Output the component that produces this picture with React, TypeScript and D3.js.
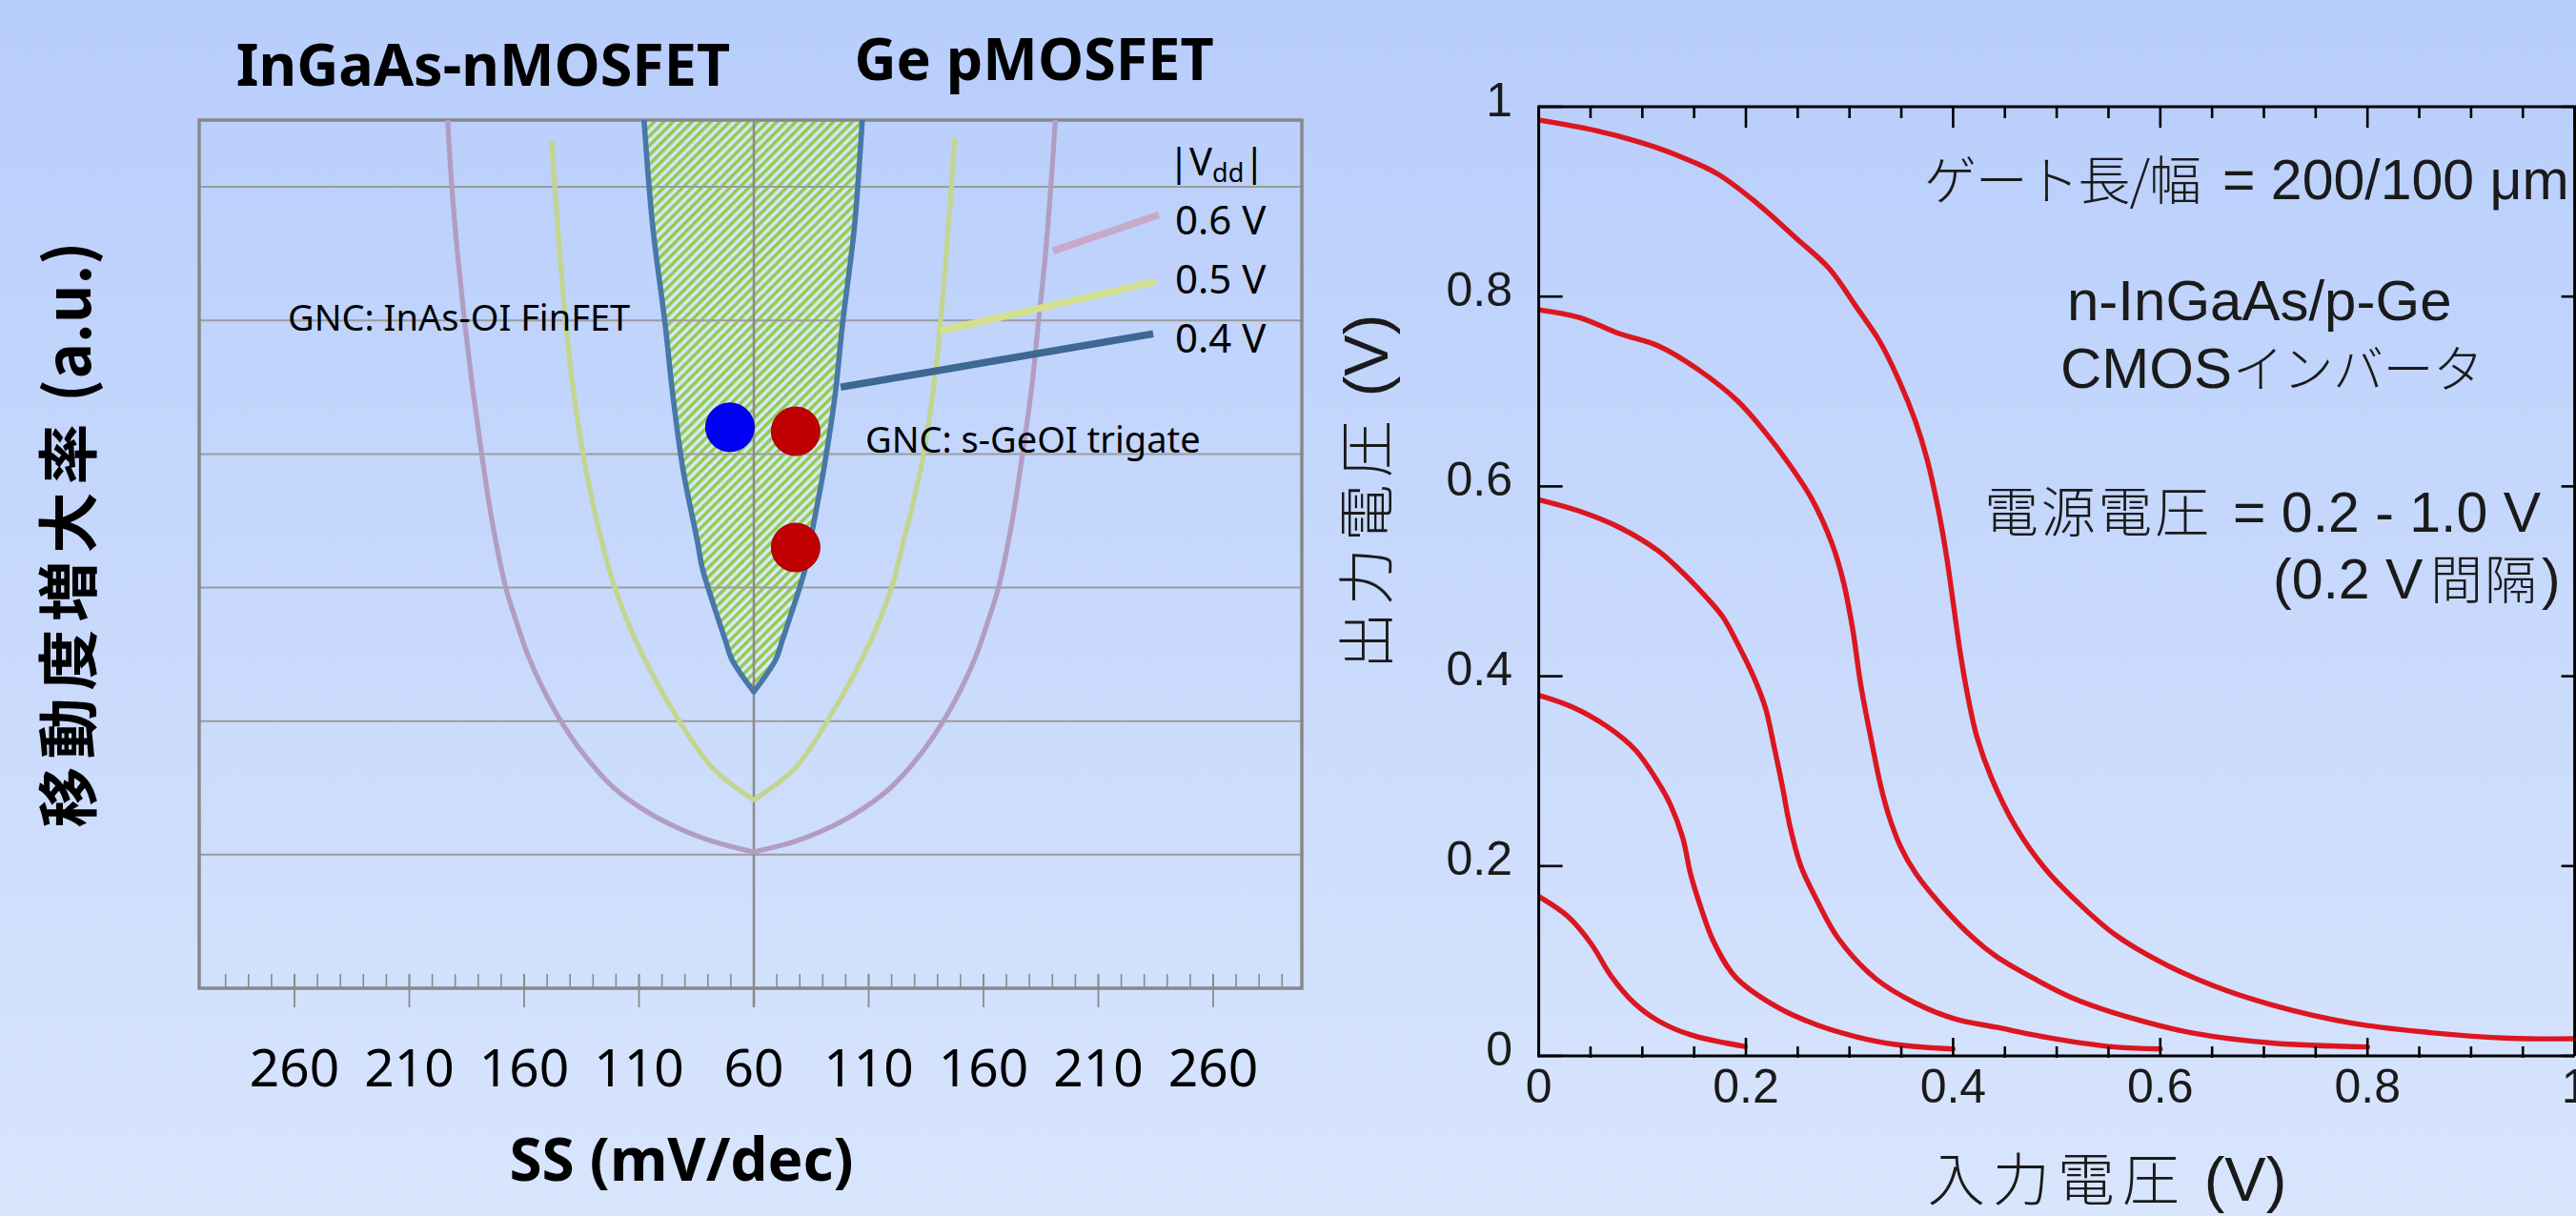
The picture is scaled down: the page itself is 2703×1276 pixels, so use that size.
import React from 'react';
import * as d3 from 'd3';

const W = 2703;
const H = 1276;

type P = [number, number];

// ---------- Left chart: mobility enhancement vs SS ----------
const ssTickOffsets = [-200, -150, -100, -50, 0, 50, 100, 150, 200];
const ssTickLabels = ['260', '210', '160', '110', '60', '110', '160', '210', '260'];
const ssMinorOffsets = d3.range(-230, 231, 10);
const mobilityGrid = [1, 2, 3, 4, 5, 6];

// |Vdd| = 0.6 V curve (signed offset from 60 mV/dec, mobility a.u.)
const vdd06Left: P[] = [[0, 1.02], [-18, 1.1], [-33, 1.2], [-44.5, 1.3], [-61, 1.5], [-74, 1.75], [-84, 2.0], [-92, 2.25], [-98.5, 2.5], [-103.5, 2.75], [-108, 3.0], [-114, 3.5], [-118.5, 4.0], [-122.5, 4.5], [-126, 5.0], [-129, 5.5], [-131.5, 6.0], [-133.3, 6.5]];
const vdd06Right: P[] = [[0, 1.02], [18, 1.1], [32.5, 1.2], [43.5, 1.3], [59.5, 1.5], [72.5, 1.75], [82.5, 2.0], [90.5, 2.25], [97, 2.5], [102, 2.75], [106.5, 3.0], [112.5, 3.5], [117, 4.0], [121, 4.5], [124, 5.0], [127, 5.5], [129.3, 6.0], [131.3, 6.5]];
// |Vdd| = 0.5 V
const vdd05Left: P[] = [[0, 1.41], [-18, 1.65], [-33.5, 2.03], [-50, 2.55], [-60.5, 3.0], [-65.5, 3.3], [-73.3, 3.9], [-79.5, 4.6], [-84.5, 5.5], [-87.9, 6.33]];
const vdd05Right: P[] = [[0, 1.41], [18, 1.65], [33, 2.03], [49.5, 2.55], [60, 3.0], [64.5, 3.3], [72.8, 3.9], [79, 4.6], [83.8, 5.5], [87.4, 6.35]];
// |Vdd| = 0.4 V
const vdd04Left: P[] = [[-47.8, 6.5], [-44, 5.7], [-38.6, 4.97], [-35.2, 4.43], [-30.8, 3.88], [-24.5, 3.34], [-22.5, 3.15], [-16, 2.79], [-12.5, 2.61], [-9.5, 2.46], [0, 2.22]];
const vdd04Right: P[] = [[0, 2.22], [9.5, 2.46], [12.5, 2.61], [16, 2.79], [22.5, 3.15], [24.5, 3.34], [30.4, 3.88], [35.3, 4.43], [38.6, 4.97], [43.8, 5.7], [47.2, 6.5]];

const gncPoints = [
  { u: -10.4, m: 4.2, color: '#0000f5' },
  { u: 18.2, m: 4.17, color: '#c00000' },
  { u: 18.2, m: 3.3, color: '#c00000' },
];

const legendLabels = ['0.6 V', '0.5 V', '0.4 V'];
const legendColors = ['#c6aac8', '#d3e08f', '#3d6892'];
const legendLeaders: [P, P][] = [
  [[130.3, 5.52], [176.3, 5.79]],
  [[80.9, 4.92], [174.7, 5.29]],
  [[37.8, 4.5], [173.9, 4.9]],
];

// ---------- Right chart: CMOS inverter transfer ----------
const vinTicks = [0, 0.2, 0.4, 0.6, 0.8, 1.0];
const vinTickLabels = ['0', '0.2', '0.4', '0.6', '0.8', '1'];
const vinMinor = [0.05, 0.1, 0.15, 0.25, 0.3, 0.35, 0.45, 0.5, 0.55, 0.65, 0.7, 0.75, 0.85, 0.9, 0.95];
const voutTicks = [0, 0.2, 0.4, 0.6, 0.8, 1.0];
const voutTickLabels = ['0', '0.2', '0.4', '0.6', '0.8', '1'];

const vout10: P[] = [[0, 0.986], [0.0545, 0.975], [0.0965, 0.963], [0.131, 0.95], [0.173, 0.929], [0.211, 0.898], [0.249, 0.861], [0.28, 0.83], [0.306, 0.79], [0.329, 0.753], [0.348, 0.711], [0.3635, 0.669], [0.375, 0.628], [0.386, 0.574], [0.394, 0.524], [0.4, 0.478], [0.407, 0.424], [0.414, 0.38], [0.423, 0.336], [0.437, 0.293], [0.4605, 0.241], [0.489, 0.197], [0.522, 0.16], [0.556, 0.128], [0.602, 0.098], [0.651, 0.074], [0.708, 0.0536], [0.785, 0.0345], [0.861, 0.0245], [0.937, 0.0186], [1.0, 0.018]];
const vout08: P[] = [[0, 0.786], [0.039, 0.778], [0.0775, 0.761], [0.1155, 0.748], [0.154, 0.723], [0.192, 0.69], [0.2186, 0.657], [0.2414, 0.624], [0.264, 0.586], [0.283, 0.54], [0.294, 0.5], [0.303, 0.45], [0.311, 0.39], [0.3215, 0.33], [0.33, 0.285], [0.338, 0.253], [0.349, 0.221], [0.3635, 0.193], [0.39, 0.157], [0.4207, 0.123], [0.4415, 0.105], [0.4796, 0.0806], [0.518, 0.0598], [0.575, 0.039], [0.632, 0.024], [0.708, 0.0136], [0.8, 0.0094]];
const vout06: P[] = [[0, 0.586], [0.039, 0.574], [0.0775, 0.557], [0.1155, 0.532], [0.139, 0.509], [0.162, 0.483], [0.178, 0.462], [0.193, 0.432], [0.208, 0.398], [0.219, 0.366], [0.2266, 0.329], [0.235, 0.285], [0.2425, 0.242], [0.253, 0.2], [0.269, 0.163], [0.289, 0.124], [0.325, 0.0816], [0.3635, 0.0557], [0.4017, 0.039], [0.4415, 0.0302], [0.4986, 0.018], [0.556, 0.0094], [0.6, 0.0073]];
const vout04: P[] = [[0, 0.38], [0.0316, 0.368], [0.066, 0.347], [0.0935, 0.322], [0.1165, 0.286], [0.127, 0.265], [0.139, 0.23], [0.1465, 0.192], [0.156, 0.158], [0.169, 0.12], [0.19, 0.083], [0.23, 0.0515], [0.268, 0.0328], [0.306, 0.0203], [0.3445, 0.012], [0.4, 0.0073]];
const vout02: P[] = [[0, 0.168], [0.028, 0.147], [0.0507, 0.118], [0.0698, 0.0843], [0.0926, 0.0552], [0.1155, 0.0369], [0.146, 0.0224], [0.1994, 0.0099]];
const voutSeries = [vout10, vout08, vout06, vout04, vout02];

const CJK = '"Noto Sans CJK JP", sans-serif';
const LAT = '"Noto Sans", sans-serif';
const ARIAL = '"Liberation Sans", Arial, sans-serif';

export default function App() {
  const xL = d3.scaleLinear().domain([-241.5, 238.6]).range([209, 1366]);
  const yL = d3.scaleLinear().domain([0, 6.5]).range([1037, 126]);
  const lineL = d3.line<P>().x(d => xL(d[0])).y(d => yL(d[1])).curve(d3.curveCatmullRom.alpha(0.5));

  const xR = d3.scaleLinear().domain([0, 1]).range([1614.6, 2701.6]);
  const yR = d3.scaleLinear().domain([0, 1]).range([1108, 112]);
  const lineR = d3.line<P>().x(d => xR(d[0])).y(d => yR(d[1])).curve(d3.curveCatmullRom.alpha(0.5));

  const hatchPath = (lineL(vdd04Left) || '') + (lineL(vdd04Right) || '').replace(/^M/, 'L') + 'Z';

  const [lx0, lx1] = xL.range();
  const [ly0, ly1] = yL.range();

  return (
    <svg width={W} height={H} style={{ position: 'absolute', left: 0, top: 0, display: 'block' }}>
      <defs>
        <linearGradient id="bg" x1="0" y1="0" x2="0" y2="1">
          <stop offset="0" stopColor="#b7cdfb" />
          <stop offset="1" stopColor="#d8e5fd" />
        </linearGradient>
        <pattern id="hatch" patternUnits="userSpaceOnUse" width="7" height="7" patternTransform="rotate(45)">
          <rect width="7" height="7" fill="#eef3f4" fillOpacity="0.55" />
          <line x1="1.8" y1="0" x2="1.8" y2="7" stroke="#8ecb4a" strokeWidth="3.4" />
        </pattern>
        <clipPath id="clipL">
          <rect x={lx0} y={ly1} width={lx1 - lx0} height={ly0 - ly1} />
        </clipPath>
        <clipPath id="clipR">
          <rect x={xR(0)} y={yR(1)} width={xR(1) - xR(0)} height={yR(0) - yR(1)} />
        </clipPath>
      </defs>
      <rect x={0} y={0} width={W} height={H} fill="url(#bg)" />

      {/* ================= LEFT CHART ================= */}
      <g clipPath="url(#clipL)">
        <path d={hatchPath} fill="url(#hatch)" />
      </g>
      {mobilityGrid.map(g => (
        <line key={'g' + g} x1={lx0} x2={lx1} y1={yL(g)} y2={yL(g)} stroke="#9b9b9b" strokeWidth={2} />
      ))}
      <line x1={xL(0)} x2={xL(0)} y1={ly1} y2={ly0 + 20} stroke="#8a8a8a" strokeWidth={2.5} />
      {ssMinorOffsets.map(v => (
        <line key={'mn' + v} x1={xL(v)} x2={xL(v)} y1={ly0 - 15} y2={ly0} stroke="#8a8a8a" strokeWidth={1.6} />
      ))}
      {ssTickOffsets.map(v => (
        <line key={'mj' + v} x1={xL(v)} x2={xL(v)} y1={ly0 - 15} y2={ly0 + 20} stroke="#8a8a8a" strokeWidth={1.8} />
      ))}
      <rect x={lx0} y={ly1} width={lx1 - lx0} height={ly0 - ly1} fill="none" stroke="#888888" strokeWidth={3.5} />

      <g clipPath="url(#clipL)" fill="none" strokeLinecap="round" strokeLinejoin="round">
        <path d={lineL(vdd06Left) || ''} stroke="#b29dc1" strokeWidth={5.2} />
        <path d={lineL(vdd06Right) || ''} stroke="#b29dc1" strokeWidth={5.2} />
        <path d={lineL(vdd05Left) || ''} stroke="#c3d58e" strokeWidth={5.2} />
        <path d={lineL(vdd05Right) || ''} stroke="#c3d58e" strokeWidth={5.2} />
        <path d={lineL(vdd04Left) || ''} stroke="#4877a8" strokeWidth={5.6} />
        <path d={lineL(vdd04Right) || ''} stroke="#4877a8" strokeWidth={5.6} />
      </g>

      {legendLeaders.map((seg, i) => (
        <line key={'ld' + i} x1={xL(seg[0][0])} y1={yL(seg[0][1])} x2={xL(seg[1][0])} y2={yL(seg[1][1])}
          stroke={legendColors[i]} strokeWidth={7.5} />
      ))}

      {gncPoints.map((p, i) => (
        <circle key={'pt' + i} cx={xL(p.u)} cy={yL(p.m)} r={25.5} fill={p.color}
          stroke={p.color === '#c00000' ? '#a00000' : '#0000d0'} strokeWidth={1} />
      ))}

      {ssTickOffsets.map((v, i) => (
        <text key={'tl' + i} x={xL(v)} y={1140} textAnchor="middle" fontFamily={LAT} fontSize={55} fill="#000">
          {ssTickLabels[i]}
        </text>
      ))}
      <text x={715} y={1239} textAnchor="middle" fontFamily={LAT} fontWeight={700} fontSize={62} fill="#000">SS (mV/dec)</text>
      <text transform="translate(95,561) rotate(-90)" textAnchor="middle" fontFamily={CJK} fontWeight={700} fontSize={64} fill="#000">
        <tspan letterSpacing={8}>移動度増大率</tspan>
        <tspan> (a.u.)</tspan>
      </text>
      <text x={507} y={90} textAnchor="middle" fontFamily={LAT} fontWeight={700} fontSize={61} fill="#000">InGaAs-nMOSFET</text>
      <text x={1085} y={84} textAnchor="middle" fontFamily={LAT} fontWeight={700} fontSize={61} fill="#000">Ge pMOSFET</text>

      <text x={302} y={347} fontFamily={LAT} fontSize={38} fill="#000">GNC: InAs-OI FinFET</text>
      <text x={908} y={475} fontFamily={LAT} fontSize={38} fill="#000">GNC: s-GeOI trigate</text>

      <text x={1226} y={184} fontFamily={LAT} fontSize={40} fill="#000">
        |V<tspan fontSize={27} dy={7}>dd</tspan><tspan dy={-7}>|</tspan>
      </text>
      {legendLabels.map((t, i) => (
        <text key={'lg' + i} x={1233} y={246 + i * 62} fontFamily={LAT} fontSize={42} fill="#000">{t}</text>
      ))}

      {/* ================= RIGHT CHART ================= */}
      <g clipPath="url(#clipR)" fill="none" strokeLinejoin="round" strokeLinecap="round">
        {voutSeries.map((s, i) => (
          <path key={'vo' + i} d={lineR(s) || ''} stroke="#dc1620" strokeWidth={5.4} />
        ))}
      </g>

      <g stroke="#000" strokeWidth={3} fill="none">
        <line x1={xR(0)} x2={xR(1)} y1={yR(0)} y2={yR(0)} />
        <line x1={xR(0)} x2={xR(1) + 2} y1={yR(1)} y2={yR(1)} />
        <line x1={xR(0)} x2={xR(0)} y1={yR(0) + 1.5} y2={yR(1) - 1.5} />
        <line x1={xR(1)} x2={xR(1)} y1={yR(0)} y2={yR(1)} />
      </g>
      <g stroke="#000" strokeWidth={2.6}>
        {vinTicks.map(v => (
          <g key={'xt' + v}>
            <line x1={xR(v)} x2={xR(v)} y1={yR(0)} y2={yR(0) - 19} />
            <line x1={xR(v)} x2={xR(v)} y1={yR(1)} y2={yR(1) + 22} />
          </g>
        ))}
        {vinMinor.map(v => (
          <g key={'xm' + v}>
            <line x1={xR(v)} x2={xR(v)} y1={yR(0) + 2} y2={yR(0) - 10} />
            <line x1={xR(v)} x2={xR(v)} y1={yR(1)} y2={yR(1) + 12} />
          </g>
        ))}
        {voutTicks.map(v => (
          <g key={'yt' + v}>
            <line x1={xR(0)} x2={xR(0) + 25} y1={yR(v)} y2={yR(v)} />
            <line x1={xR(1)} x2={xR(1) - 14} y1={yR(v)} y2={yR(v)} />
          </g>
        ))}
      </g>
      {vinTicks.map((v, i) => (
        <text key={'xl' + i} x={xR(v)} y={1157} textAnchor="middle" fontFamily={ARIAL} fontSize={50} fill="#1a1a1a">
          {vinTickLabels[i]}
        </text>
      ))}
      {voutTicks.map((v, i) => (
        <text key={'yl' + i} x={1587} y={yR(v) + 9.5} textAnchor="end" fontFamily={ARIAL} fontSize={50} fill="#1a1a1a">
          {voutTickLabels[i]}
        </text>
      ))}

      <text x={2211} y={1260} textAnchor="middle" fill="#1a1a1a">
        <tspan fontFamily={CJK} fontWeight={300} fontSize={60} letterSpacing={8}>入力電圧</tspan>
        <tspan fontFamily={ARIAL} fontSize={65}> (V)</tspan>
      </text>
      <text transform="translate(1456,516) rotate(-90)" textAnchor="middle" fill="#1a1a1a">
        <tspan fontFamily={CJK} fontWeight={300} fontSize={60} letterSpacing={7}>出力電圧</tspan>
        <tspan fontFamily={ARIAL} fontSize={65}> (V)</tspan>
      </text>

      <g fill="#1a1a1a">
        <text x={2019} y={209} fontFamily={CJK} fontWeight={300} fontSize={55} textLength={291} lengthAdjust="spacing">ゲート長/幅</text>
        <text x={2332} y={209} fontFamily={ARIAL} fontSize={59}>= 200/100 μm</text>
        <text x={2169} y={336} fontFamily={ARIAL} fontSize={60}>n-InGaAs/p-Ge</text>
        <text x={2162} y={407} fontFamily={ARIAL} fontSize={60}>CMOS</text>
        <text x={2343} y={407} fontFamily={CJK} fontWeight={300} fontSize={53} textLength={263} lengthAdjust="spacing">インバータ</text>
        <text x={2082} y={558} fontFamily={CJK} fontWeight={300} fontSize={57} textLength={236} lengthAdjust="spacing">電源電圧</text>
        <text x={2343} y={558} fontFamily={ARIAL} fontSize={59}>= 0.2 - 1.0 V</text>
        <text x={2385} y={628} fontFamily={ARIAL} fontSize={59}>(0.2 V</text>
        <text x={2550} y={628} fontFamily={CJK} fontWeight={300} fontSize={55} textLength={112} lengthAdjust="spacing">間隔</text>
        <text x={2667} y={628} fontFamily={ARIAL} fontSize={59}>)</text>
      </g>
    </svg>
  );
}
